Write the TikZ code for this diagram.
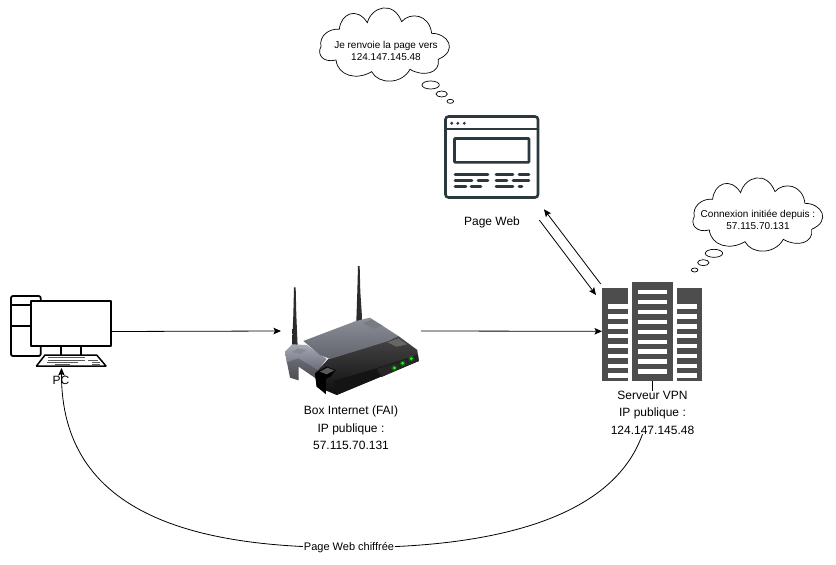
\documentclass[tikz,border=0pt]{standalone}
\usepackage{fontspec}
\setmainfont{Liberation Sans}
\usetikzlibrary{arrows.meta}
\definecolor{rack}{HTML}{4D4D4D}
\definecolor{slate}{HTML}{2B383D}
\definecolor{lidhi}{HTML}{8C8F98}
\definecolor{lidlo}{HTML}{62656D}
\definecolor{brkhi}{HTML}{A6AAB6}
\definecolor{brklo}{HTML}{6A6D78}
\tikzset{
  x=1pt, y=-1pt,
  icon/.style={inner sep=0pt, outer sep=0pt},
  lbl/.style={font=\fontsize{12}{17.3}\selectfont, align=center, inner sep=0pt, outer sep=0pt},
  thinklbl/.style={font=\fontsize{10}{12}\selectfont, align=center, inner sep=0pt},
  link/.style={draw=black, line width=0.8pt, -{Stealth[length=7.5pt,width=6.5pt,inset=1.5pt]}},
  plain/.style={draw=black, line width=0.8pt},
  bubble/.style={draw=black, line width=0.7pt, fill=white},
  monitor/.style={draw=black, line width=1.8pt, line join=round},
  keyrow/.style={draw=black!65, line width=0.9pt},
  webline/.style={draw=slate, line width=2.7pt, line cap=round},
  mast/.style={left color=black!85, middle color=black!50, right color=black!80},
  thought/.pic={
    \draw[bubble] (33,140)
      .. controls (26,108) and (58,84) .. (88,88)
      .. controls (92,42) and (140,18) .. (172,68)
      .. controls (185,20) and (250,0) .. (275,65)
      .. controls (300,35) and (358,42) .. (365,100)
      .. controls (415,100) and (445,152) .. (385,178)
      .. controls (392,220) and (340,232) .. (300,208)
      .. controls (275,254) and (205,254) .. (185,215)
      .. controls (140,242) and (84,228) .. (78,180)
      .. controls (38,190) and (20,162) .. (33,140) -- cycle;
  },
}
\begin{document}
\begin{tikzpicture}
\useasboundingbox (0,0) rectangle (836,565);
\fill[white] (0,0) rectangle (836,565);

% Anchor boxes of the four devices
\node[icon, minimum width=101pt, minimum height=73pt] (pc) at (61.5,331.5) {};
\node[icon, minimum width=140pt, minimum height=130pt] (router) at (351,331) {};
\node[icon, minimum width=101pt, minimum height=100pt] (server) at (652.5,331.3) {};
\node[icon, minimum width=94pt, minimum height=82pt] (web) at (491.7,157) {};

% Computer: tower behind the screen, stand and keyboard
\draw[monitor, rounded corners=2pt] (11,296) rectangle (40.7,356);
\draw[monitor] (11,305) -- (31,305) (11,325.7) -- (31,325.7);
\draw[monitor, fill=white] (31,301) rectangle (111,346);
\draw[black, line width=1.5pt] (61,346) -- (61,355) (81,346) -- (81,355);
\draw[black, line width=1.5pt, line join=round, fill=white]
  (36.5,366) -- (45,355) -- (96.7,355) -- (106,366) -- cycle;
\draw[keyrow] (48,357.5) -- (85,357.5) (47.5,360) -- (85,360) (88,360) -- (98,360)
  (47,362.5) -- (78,362.5) (92,362.5) -- (100,362.5) (55,364.3) -- (70,364.3) (92,364.3) -- (100,364.3);

% Router, drawn in a finer grid
\begin{scope}[xshift=270pt, yshift=-255pt, x=0.3333pt, y=-0.3333pt]
  % antennas
  \shade[mast] (72,97) -- (77,97) -- (79,180) -- (83,275) -- (66,275) -- (70,180) -- cycle;
  \shade[mast] (264,33) -- (269,33) -- (271,110) -- (277,200) -- (259,200) -- (262,110) -- cycle;
  % lower part of the left bracket
  \shade[top color=brklo, bottom color=black!70]
    (50,318) -- (85,305) -- (145,345) -- (140,372) -- (86,335) -- (86,376) -- (60,368) -- cycle;
  % upper part of the left bracket
  \shade[top color=brkhi, bottom color=brklo]
    (45,290) -- (67,268) -- (110,270) -- (170,312) -- (145,345) -- (85,310) -- (50,322) -- cycle;
  \fill[brklo!80] (66,291) -- (84,280) -- (110,285) -- (92,298) -- cycle;
  % body
  \shade[top color=black!72, bottom color=black!95]
    (135,355) -- (175,312) -- (355,256) -- (385,243) -- (442,285) -- (446,318) -- (200,420) -- (140,395) -- cycle;
  % lid
  \shade[top color=lidhi, bottom color=lidlo]
    (100,258) -- (258,198) -- (300,188) -- (385,243) -- (355,258) -- (180,312) -- (150,300) -- cycle;
  \fill[lidlo!85] (278,205) -- (305,194) -- (338,212) -- (310,222) -- cycle;
  \fill[black!60] (352,262) -- (385,250) -- (412,268) -- (380,275) -- cycle;
  % front face
  \fill[black!92] (190,378) -- (320,340) -- (444,300) -- (446,318) -- (200,420) -- cycle;
  \fill[black!85] (320,342) -- (444,302) -- (446,318) -- (335,366) -- cycle;
  % foot
  \fill[black] (135,355) -- (170,335) -- (197,345) -- (182,365) -- (168,372) -- (168,418) -- (140,395) -- cycle;
  \fill[black!65] (150,350) -- (172,338) -- (193,346) -- (170,358) -- cycle;
  % status lights
  \foreach \lx/\ly in {373/339, 398/325, 424/311} {
    \fill[green!70!black, opacity=0.35] (\lx,\ly) circle (9);
    \fill[green!85!white] (\lx,\ly) circle (4.5);
  }
\end{scope}

% Server racks with their white slots
\fill[rack] (602.3,288.3) rectangle (627.7,381);
\fill[rack] (632,281.7) rectangle (672.7,381);
\fill[rack] (677.3,288.3) rectangle (702.3,381);
\foreach \sy in {306.8,316.8,326.8,336.7,346.7,356.7,366.5,376} {
  \fill[white] (608,\sy-0.3-2.5) rectangle (627.7,\sy-0.3+2);
  \fill[white] (677.3,\sy-0.3-2.5) rectangle (697,\sy-0.3+2);
}
\foreach \sy in {292.2,302,312,322,331.7,341.7,351.5,361.5,371.5} {
  \fill[white] (637.7,\sy-2.2) rectangle (667.3,\sy+2.2);
}

% Web page icon
\draw[slate, line width=2.6pt, rounded corners=3pt] (445.5,116.5) rectangle (538,197.5);
\draw[slate, line width=2.4pt] (445.5,129) -- (538,129);
\fill[slate] (451.7,123.3) circle (1.6) (457.8,123.3) circle (1.6) (464.3,123.3) circle (1.6);
\draw[slate, line width=2.6pt, rounded corners=0.8pt] (454.5,138.5) rectangle (529,162.3);
\draw[webline] (455,174.3) -- (488,174.3) (496,174.3) -- (513,174.3) (519,174.3) -- (529,174.3);
\draw[webline] (455,180.7) -- (472,180.7) (478,180.7) -- (488,180.7) (496,180.7) -- (507,180.7) (513,180.7) -- (529,180.7);
\draw[webline] (455,186.7) -- (466,186.7) (471,186.7) -- (481,186.7) (496,186.7) -- (513,186.7) (519,186.7) -- (522,186.7);

% Thought bubbles
\begin{scope}[xshift=310pt, yshift=0pt, x=0.3333pt, y=-0.3333pt]
  \pic {thought};
  \draw[bubble] (362,255) ellipse (26 and 12);
  \draw[bubble] (395,282) ellipse (17 and 9);
  \draw[bubble] (421,304) ellipse (10 and 6);
\end{scope}
\begin{scope}[xshift=683.3pt, yshift=-170pt, x=0.3333pt, y=-0.3333pt]
  \pic {thought};
  \draw[bubble] (92,250) ellipse (26 and 12);
  \draw[bubble] (60,278) ellipse (17 and 9);
  \draw[bubble] (34,300) ellipse (10 and 6);
\end{scope}
\node[thinklbl] (say1) at (386,51) {Je renvoie la page vers\\124.147.145.48};
\node[thinklbl] (say2) at (758,219.5) {Connexion initiée depuis :\\57.115.70.131};

% Labels
\node[lbl] (pclabel) at (61,380) {PC};
\node[lbl] (weblabel) at (492,222) {Page Web};
\node[lbl] (routerlabel) at (351,428) {Box Internet (FAI)\\IP publique :\\57.115.70.131};
\node[lbl] (serverlabel) at (652.5,412.6) {Serveur VPN\\IP publique :\\124.147.145.48};

% Connectors
\coordinate (webin) at (539.3,220);
\coordinate (webout) at (544,209.3);
\coordinate (srvin) at (596,295);
\coordinate (srvout) at (600.7,284);
\draw[link] (pc.east) -- (router.west);
\draw[link] (router.east) -- (server.west);
\draw[link] (webin) -- (srvin);
\draw[link] (srvout) -- (webout);
\draw[plain] (server.south) -- (serverlabel.north);
\draw[link] ([xshift=-10pt]serverlabel.south)
  .. controls (612,520) and (490,548) .. (349,547.5)
  .. controls (190,548) and (61,512) .. (pc.south)
  node[pos=0, fill=white, inner sep=1pt, font=\fontsize{11}{12}\selectfont] (cryptlabel) {Page Web chiffrée};
\end{tikzpicture}
\end{document}
